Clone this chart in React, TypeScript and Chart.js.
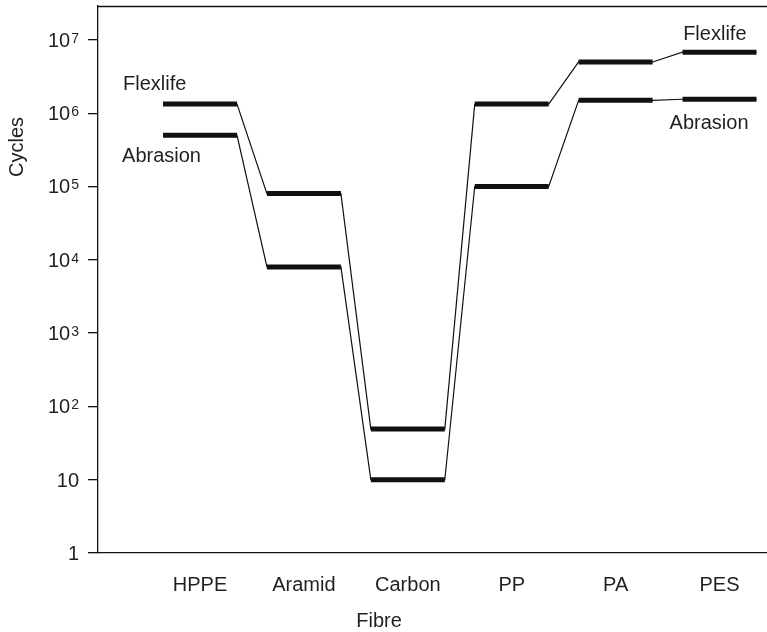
import React, { useEffect, useRef } from "react";
import { Chart, registerables } from "chart.js";

Chart.register(...registerables);

const CATEGORIES = ["HPPE", "Aramid", "Carbon", "PP", "PA", "PES"];
const SERIES_NAMES = ["Flexlife", "Abrasion"];
const FLEXLIFE = [1.33e6, 8e4, 49, 1.33e6, 5e6, 6.8e6];
const ABRASION = [5e5, 8e3, 10, 1e5, 1.5e6, 1.55e6];
const Y_TICKS = [1, 10, 100, 1e3, 1e4, 1e5, 1e6, 1e7];
const Y_TICK_BASES = ["1", "10", "10", "10", "10", "10", "10", "10"];
const Y_TICK_EXPONENTS = ["", "", "2", "3", "4", "5", "6", "7"];
const X_TITLE = "Fibre";
const Y_TITLE = "Cycles";

const HALF = 0.356; // half width of each level bar, in category units
const FONT = "'Liberation Sans', Arial, Helvetica, sans-serif";
const TEXT = "#231f20";
const INK = "#111111";

function connector(values: number[]) {
  const pts: { x: number; y: number | null }[] = [];
  values.forEach((v, i) => {
    pts.push({ x: i - HALF, y: v });
    pts.push({ x: i + HALF, y: v });
  });
  return pts;
}

function levels(values: number[]) {
  const pts: { x: number; y: number | null }[] = [];
  values.forEach((v, i) => {
    pts.push({ x: i - HALF, y: v });
    pts.push({ x: i + HALF, y: v });
    pts.push({ x: i + 0.5, y: null });
  });
  return pts;
}

const textPlugin = {
  id: "texts",
  afterDraw(chart: any) {
    const { ctx, chartArea, scales } = chart;
    const xs = scales.x;
    const ys = scales.y;
    ctx.save();
    // top frame line
    ctx.strokeStyle = INK;
    ctx.lineWidth = 1.3;
    ctx.beginPath();
    ctx.moveTo(chartArea.left, chartArea.top + 0.5);
    ctx.lineTo(chartArea.right, chartArea.top + 0.5);
    ctx.stroke();

    ctx.fillStyle = TEXT;

    // y tick labels with superscript exponents
    const right = ys.left + ys.width - 10 - 9;
    Y_TICKS.forEach((v, i) => {
      const py = ys.getPixelForValue(v);
      const base = Y_TICK_BASES[i];
      const exp = Y_TICK_EXPONENTS[i];
      ctx.textBaseline = "alphabetic";
      ctx.textAlign = "left";
      ctx.font = `14px ${FONT}`;
      const ew = exp ? ctx.measureText(exp).width + 1 : 0;
      ctx.font = `20px ${FONT}`;
      const bw = ctx.measureText(base).width;
      const x0 = right - ew - bw;
      ctx.fillText(base, x0, py + 7);
      if (exp) {
        ctx.font = `14px ${FONT}`;
        ctx.fillText(exp, x0 + bw + 1, py + 3);
      }
    });

    ctx.font = `20px ${FONT}`;
    ctx.textBaseline = "middle";

    // axis titles
    ctx.textAlign = "center";
    ctx.fillText(X_TITLE, 379, 621);
    ctx.save();
    ctx.translate(17, 147);
    ctx.rotate(-Math.PI / 2);
    ctx.fillText(Y_TITLE, 0, 0);
    ctx.restore();

    // series annotations
    const last = CATEGORIES.length - 1;
    const x0 = xs.getPixelForValue(0 - HALF);
    const x1 = xs.getPixelForValue(last + HALF);
    ctx.textAlign = "left";
    ctx.fillText(SERIES_NAMES[0], x0 - 40, ys.getPixelForValue(FLEXLIFE[0]) - 20);
    ctx.fillText(SERIES_NAMES[1], x0 - 41, ys.getPixelForValue(ABRASION[0]) + 21);
    ctx.textAlign = "right";
    ctx.fillText(SERIES_NAMES[0], x1 - 10, ys.getPixelForValue(FLEXLIFE[last]) - 18);
    ctx.fillText(SERIES_NAMES[1], x1 - 8, ys.getPixelForValue(ABRASION[last]) + 24);
    ctx.restore();
  },
};

export default function App() {
  const ref = useRef<HTMLCanvasElement | null>(null);

  useEffect(() => {
    document.body.style.margin = "0";
    if (!ref.current) return;
    const thin = { borderColor: INK, borderWidth: 1.2, pointRadius: 0, fill: false, tension: 0 };
    const thick = { borderColor: INK, borderWidth: 5, pointRadius: 0, fill: false, tension: 0, spanGaps: false, borderCapStyle: "butt" };
    const chart = new Chart(ref.current, {
      type: "line",
      data: {
        datasets: [
          { label: SERIES_NAMES[0] + " bars", data: levels(FLEXLIFE), ...thick },
          { label: SERIES_NAMES[1] + " bars", data: levels(ABRASION), ...thick },
          { label: SERIES_NAMES[0], data: connector(FLEXLIFE), ...thin },
          { label: SERIES_NAMES[1], data: connector(ABRASION), ...thin },
        ] as any,
      },
      options: {
        animation: false,
        responsive: false,
        devicePixelRatio: 1,
        layout: { padding: { top: 6, right: 0, left: 0, bottom: 0 } },
        plugins: { legend: { display: false }, tooltip: { enabled: false } },
        scales: {
          x: {
            type: "linear",
            min: -0.982,
            max: 5.457,
            grid: { display: false, drawTicks: false, drawOnChartArea: false },
            border: { display: true, color: INK, width: 1.3 },
            afterBuildTicks: (s: any) => {
              s.ticks = CATEGORIES.map((_, i) => ({ value: i }));
            },
            afterFit: (s: any) => {
              s.height = 79;
              s.paddingLeft = 0;
              s.paddingRight = 0;
            },
            ticks: {
              autoSkip: false,
              maxRotation: 0,
              padding: 20,
              color: TEXT,
              font: { family: FONT, size: 20 },
              callback: (v: any) => CATEGORIES[Math.round(Number(v))] ?? "",
            },
          },
          y: {
            type: "logarithmic",
            min: 1,
            max: 2.9e7,
            grid: { display: true, drawOnChartArea: false, drawTicks: true, tickLength: 10, color: INK, lineWidth: 1.3 },
            border: { display: true, color: INK, width: 1.3 },
            afterBuildTicks: (s: any) => {
              s.ticks = Y_TICKS.map((v) => ({ value: v }));
            },
            afterFit: (s: any) => {
              s.width = 98;
              s.paddingTop = 0;
              s.paddingBottom = 0;
            },
            ticks: {
              display: false,
              autoSkip: false,
            },
          },
        },
      } as any,
      plugins: [textPlugin],
    });
    return () => chart.destroy();
  }, []);

  return (
    <div style={{ position: "fixed", left: 0, top: 0, width: 767, height: 632, background: "#fff" }}>
      <canvas ref={ref} width={767} height={632} />
    </div>
  );
}
